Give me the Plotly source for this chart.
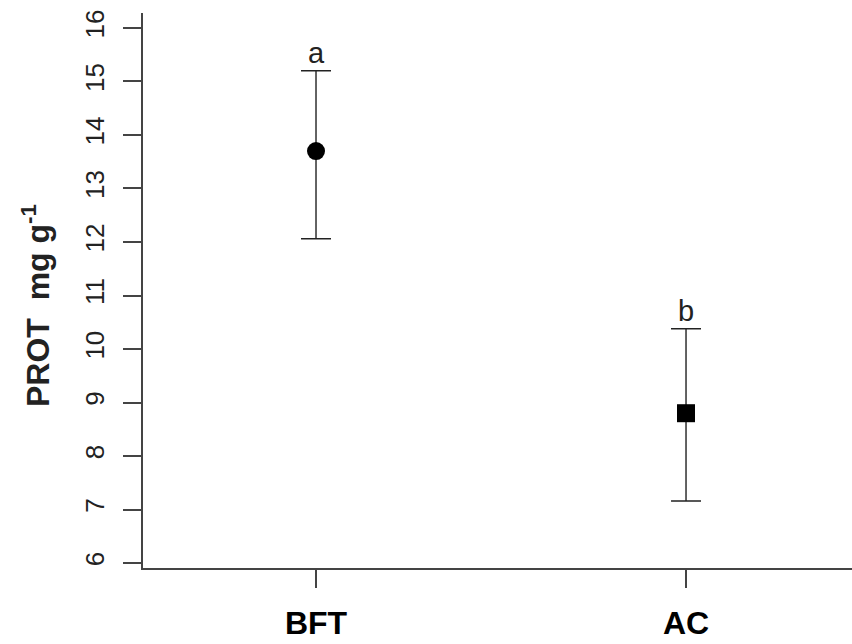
import plotly.graph_objects as go

categories = ["BFT", "AC"]
x_pos = [1, 2]
means = [13.7, 8.8]
upper = [15.2, 10.38]
lower = [12.06, 7.16]
letters = ["a", "b"]
symbols = ["circle", "square"]
y_ticks = [6, 7, 8, 9, 10, 11, 12, 13, 14, 15, 16]

FONT = "Liberation Sans, Arial, sans-serif"
ink = "#222222"
axis_col = "#444444"

fig = go.Figure()
fig.add_trace(go.Scatter(
    x=x_pos, y=means, mode="markers",
    marker=dict(symbol=symbols, size=18, color="black", line=dict(width=0)),
    error_y=dict(type="data", symmetric=False,
                 array=[u - m for u, m in zip(upper, means)],
                 arrayminus=[m - l for m, l in zip(means, lower)],
                 color=ink, thickness=1.4, width=15),
    showlegend=False, hoverinfo="skip",
))

for xp, u, t in zip(x_pos, upper, letters):
    fig.add_annotation(x=xp, y=u, text=t, showarrow=False, xanchor="center",
                       yanchor="bottom", yshift=0,
                       font=dict(family=FONT, size=29, color=ink))

fig.add_annotation(xref="paper", yref="paper", x=(36 - 143) / 709, y=(568 - 306) / 555,
                   text="<b>PROT&nbsp; mg g<sup>-1</sup></b>", showarrow=False,
                   textangle=-90, xanchor="center", yanchor="middle",
                   font=dict(family=FONT, size=32, color=ink))

fig.update_layout(
    width=852, height=644,
    margin=dict(l=143, r=0, t=13, b=76),
    paper_bgcolor="white", plot_bgcolor="white",
    font=dict(family=FONT, color=ink),
)
fig.update_xaxes(
    range=[0.5324, 2.4486], tickvals=x_pos, ticktext=["<b>%s</b>" % c for c in categories],
    showline=True, linecolor=axis_col, linewidth=1.5, mirror=False,
    ticks="outside", ticklen=18, tickwidth=1.5, tickcolor=axis_col,
    showgrid=False, zeroline=False, ticklabelstandoff=8, automargin=False,
    tickfont=dict(family=FONT, size=32, color="black"),
)
fig.update_yaxes(
    range=[5.907, 16.28], tickvals=y_ticks,
    showline=True, linecolor=axis_col, linewidth=1.5, mirror=False,
    ticks="outside", ticklen=18, tickwidth=1.5, tickcolor=axis_col,
    showgrid=False, zeroline=False, tickangle=-90, ticklabelstandoff=9,
    automargin=False,
    tickfont=dict(family=FONT, size=26, color=ink),
)

fig.write_html("out.html")
